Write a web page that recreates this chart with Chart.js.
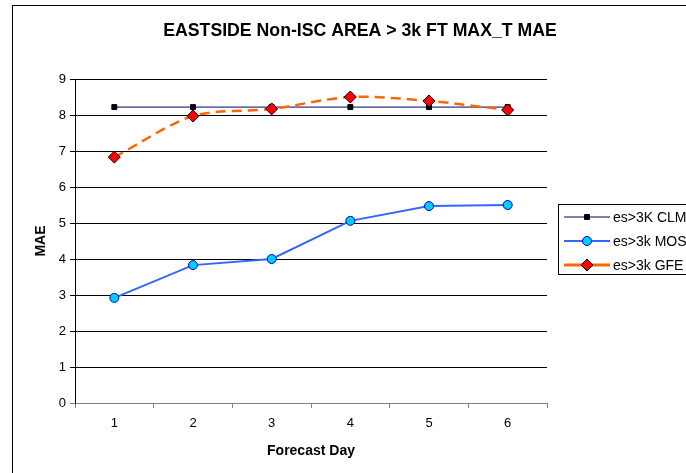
<!DOCTYPE html>
<html>
<head>
<meta charset="utf-8">
<script src="https://cdn.jsdelivr.net/npm/chart.js@4"></script>
<style>
  html, body { margin: 0; padding: 0; background: #fff; }
  #wrap { width: 686px; height: 473px; }
</style>
</head>
<body>
<div id="wrap"><canvas id="chart" width="686" height="473"></canvas></div>
<script>
// DATA
var days = ['1', '2', '3', '4', '5', '6'];
var clm = [8.22, 8.22, 8.22, 8.22, 8.22, 8.22];
var mos = [2.92, 3.83, 4.0, 5.06, 5.47, 5.5];
var gfe = [6.83, 7.97, 8.17, 8.5, 8.39, 8.14];
var seriesNames = ['es>3K CLM', 'es>3k MOS', 'es>3k GFE'];

var chartTitle = 'EASTSIDE Non-ISC AREA > 3k FT MAX_T MAE';
var font = 'Arial, "Liberation Sans", sans-serif';

// frame, title and legend drawn after the chart
var extras = {
    id: 'extras',
    afterDraw: function(chart) {
        var ctx = chart.ctx;
        var ds = chart.data.datasets;
        ctx.save();
        ctx.setLineDash([]);
        ctx.strokeStyle = '#000';
        ctx.lineWidth = 1;
        ctx.strokeRect(12.5, 5.5, 800, 600);

        ctx.fillStyle = '#000';
        ctx.font = 'bold 17.7px ' + font;
        ctx.textAlign = 'center';
        ctx.textBaseline = 'middle';
        ctx.fillText(chartTitle, 360, 31);

        // legend box
        ctx.strokeRect(558.5, 204.5, 200, 70);
        var rows = [217, 241, 265];
        for (var i = 0; i < 3; i++) {
            var d = ds[i];
            var y = rows[i];
            ctx.setLineDash([]);
            ctx.beginPath();
            ctx.strokeStyle = d.borderColor;
            ctx.lineWidth = i === 2 ? 3 : d.borderWidth;
            ctx.moveTo(564, y);
            ctx.lineTo(610, y);
            ctx.stroke();

            ctx.fillStyle = d.pointBackgroundColor;
            ctx.strokeStyle = d.pointBorderColor;
            ctx.lineWidth = d.pointBorderWidth;
            Chart.helpers.drawPoint(ctx, {
                pointStyle: d.pointStyle,
                radius: d.pointRadius,
                rotation: 0,
                borderWidth: d.pointBorderWidth
            }, 587, y);

            ctx.fillStyle = '#000';
            ctx.font = '14px ' + font;
            ctx.textAlign = 'left';
            ctx.fillText(seriesNames[i], 613, y + 1);
        }
        ctx.restore();
    }
};

var ctx = document.getElementById('chart').getContext('2d');
var maeChart = new Chart(ctx, {
    type: 'line',
    data: {
        labels: days,
        datasets: [{
            label: seriesNames[0],
            data: clm,
            borderColor: '#000066',
            borderWidth: 1,
            pointStyle: 'rect',
            pointRadius: 3.5,
            pointBackgroundColor: '#000',
            pointBorderColor: '#000',
            pointBorderWidth: 1,
            tension: 0,
            order: 2
        }, {
            label: seriesNames[1],
            data: mos,
            borderColor: '#3366FF',
            borderWidth: 2,
            pointStyle: 'circle',
            pointRadius: 4.5,
            pointBackgroundColor: '#00CCFF',
            pointBorderColor: '#0000CC',
            pointBorderWidth: 1,
            tension: 0,
            order: 1
        }, {
            label: seriesNames[2],
            data: gfe,
            borderColor: '#FF6600',
            borderWidth: 2.5,
            borderDash: [10, 6],
            pointStyle: 'rectRot',
            pointRadius: 6,
            pointBackgroundColor: '#FF0000',
            pointBorderColor: '#000',
            pointBorderWidth: 1,
            tension: 0.3,
            order: 0
        }]
    },
    options: {
        responsive: false,
        animation: false,
        events: [],
        layout: {
            padding: { left: 30, top: 79, right: 139, bottom: 13 }
        },
        scales: {
            x: {
                offset: true,
                grid: {
                    offset: true,
                    drawOnChartArea: false,
                    drawTicks: true,
                    tickLength: 5,
                    color: '#808080'
                },
                border: { color: '#808080', width: 1 },
                ticks: {
                    color: '#000',
                    padding: 8,
                    font: { family: font, size: 13 }
                },
                title: {
                    display: true,
                    text: 'Forecast Day',
                    color: '#000',
                    padding: 0,
                    font: { family: font, size: 14, weight: 'bold' }
                },
                afterFit: function(scale) { scale.height = 57; }
            },
            y: {
                min: 0,
                max: 9,
                ticks: {
                    stepSize: 1,
                    color: '#000',
                    padding: 4,
                    font: { family: font, size: 13 }
                },
                grid: {
                    color: function(c) { return c.tick && c.tick.value === 0 ? '#808080' : '#000'; },
                    tickLength: 5,
                    lineWidth: 1
                },
                border: { color: '#000', width: 1 },
                title: {
                    display: true,
                    text: 'MAE',
                    color: '#000',
                    padding: 3,
                    font: { family: font, size: 14, weight: 'bold' }
                },
                afterFit: function(scale) { scale.width = 45; }
            }
        },
        plugins: {
            legend: { display: false },
            tooltip: { enabled: false }
        }
    },
    plugins: [extras]
});
</script>
</body>
</html>
